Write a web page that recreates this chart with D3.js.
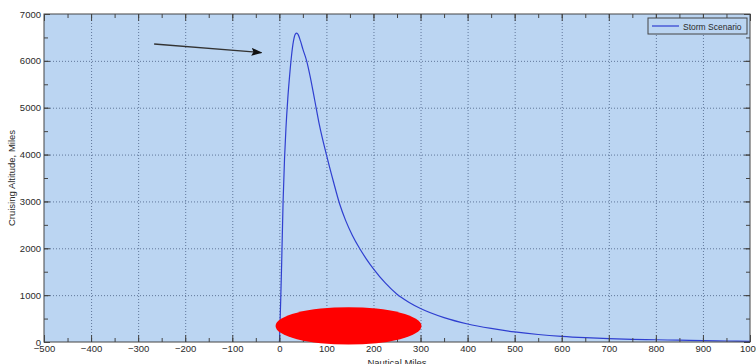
<!DOCTYPE html>
<html>
<head>
<meta charset="utf-8">
<script src="https://cdn.jsdelivr.net/npm/d3@7"></script>
<style>
  html, body { margin: 0; padding: 0; background: #ffffff; }
  svg { display: block; }
  text { font-family: 'Liberation Sans', Arial, sans-serif; }
</style>
</head>
<body>
<div id="chart"></div>
<script>
const WIDTH = 756
const HEIGHT = 364
const MARGIN = { top: 14, right: 6, bottom: 22, left: 44 }

// storm scenario profile
const MILES = [0, 0.5, 1, 2, 3, 5, 8, 11, 14, 18, 22, 26, 30, 34, 37, 40, 45, 50, 58, 65, 75, 85, 100,
  115, 128, 141, 155, 171, 185, 200, 225, 250, 275, 300, 350, 400, 450, 500, 550, 600, 650, 700,
  750, 800, 850, 900, 950, 1000]
const ALTITUDE = [0, 60, 250, 580, 920, 1700, 3000, 3900, 4550, 5200, 5700, 6120, 6420, 6570, 6590, 6560, 6420, 6250, 6000, 5690, 5170, 4640, 4000,
  3420, 2950, 2590, 2280, 1990, 1770, 1560, 1260, 1020, 850, 715, 520, 385, 290, 215, 160, 120, 92, 72,
  58, 48, 38, 28, 21, 15]

const X_DOMAIN = [-500, 1000]
const Y_DOMAIN = [0, 7000]
const X_TICKS = d3.range(-500, 1001, 100)
const X_MINOR = d3.range(-500, 1001, 50)
const Y_TICKS = d3.range(0, 7001, 1000)
const Y_MINOR = d3.range(0, 7001, 500)

// annotation arrow [miles, altitude] start -> end
const ARROW_FROM = [-266, 6360]
const ARROW_TO = [-38, 6175]

// red storm cell: center and half-widths in data units
const CELL_CENTER = [147, 344]
const CELL_RADIUS = [155, 400]

const SERIES_NAME = 'Storm Scenario'
const X_TITLE = 'Nautical Miles'
const Y_TITLE = 'Cruising Altitude, Miles'

const innerW = WIDTH - MARGIN.left - MARGIN.right
const innerH = HEIGHT - MARGIN.top - MARGIN.bottom

const svg = d3.select('#chart').append('svg')
  .attr('width', WIDTH).attr('height', HEIGHT)

svg.append('defs').append('marker')
  .attr('id', 'arrowhead')
  .attr('markerUnits', 'userSpaceOnUse')
  .attr('markerWidth', 11).attr('markerHeight', 8)
  .attr('refX', 10).attr('refY', 4)
  .attr('orient', 'auto')
  .append('polygon')
  .attr('points', '0 0, 11 4, 0 8, 2 4')
  .attr('fill', '#111')

const g = svg.append('g').attr('transform', `translate(${MARGIN.left},${MARGIN.top})`)

const x = d3.scaleLinear().domain(X_DOMAIN).range([0, innerW])
const y = d3.scaleLinear().domain(Y_DOMAIN).range([innerH, 0])

g.append('rect')
  .attr('width', innerW).attr('height', innerH)
  .attr('fill', '#bbd5f2')

// dotted grid
const gridStyle = sel => {
  sel.select('.domain').remove()
  sel.selectAll('text').remove()
  sel.selectAll('line')
    .attr('stroke', '#60779a')
    .attr('stroke-width', 1)
    .attr('stroke-dasharray', '1,2')
}
g.append('g')
  .attr('transform', `translate(0,${innerH})`)
  .call(d3.axisBottom(x).tickValues(X_TICKS.slice(1, -1)).tickSize(-innerH))
  .call(gridStyle)
g.append('g')
  .call(d3.axisLeft(y).tickValues(Y_TICKS.slice(1, -1)).tickSize(-innerW))
  .call(gridStyle)

// annotation arrow
g.append('line')
  .attr('x1', x(ARROW_FROM[0])).attr('y1', y(ARROW_FROM[1]))
  .attr('x2', x(ARROW_TO[0])).attr('y2', y(ARROW_TO[1]))
  .attr('stroke', '#333')
  .attr('stroke-width', 1.3)
  .attr('marker-end', 'url(#arrowhead)')

// curve
const pts = MILES.map((m, i) => [m, ALTITUDE[i]])
g.append('path')
  .datum(pts)
  .attr('fill', 'none')
  .attr('stroke', '#2f3fd0')
  .attr('stroke-width', 1.2)
  .attr('d', d3.line().x(d => x(d[0])).y(d => y(d[1])).curve(d3.curveMonotoneX))

// axes: ticks point inward, on all four sides
const tickStyle = sel => {
  sel.select('.domain').remove()
  sel.selectAll('line').attr('stroke', '#444')
  sel.selectAll('text')
    .attr('fill', '#2a2a2a')
    .attr('font-size', '9.5px')
}
const noLabel = sel => { tickStyle(sel); sel.selectAll('text').remove() }

g.append('g')
  .attr('transform', `translate(0,${innerH})`)
  .call(d3.axisBottom(x).tickValues(X_MINOR).tickSize(-4).tickFormat(''))
  .call(noLabel)
g.append('g')
  .attr('transform', `translate(0,${innerH})`)
  .call(d3.axisBottom(x).tickValues(X_TICKS).tickSize(-7).tickPadding(3).tickFormat(d3.format('d')))
  .call(tickStyle)
g.append('g')
  .call(d3.axisTop(x).tickValues(X_MINOR).tickSize(-4).tickFormat(''))
  .call(noLabel)
g.append('g')
  .call(d3.axisTop(x).tickValues(X_TICKS).tickSize(-7).tickFormat(''))
  .call(noLabel)

g.append('g')
  .call(d3.axisLeft(y).tickValues(Y_MINOR).tickSize(-4).tickFormat(''))
  .call(noLabel)
g.append('g')
  .call(d3.axisLeft(y).tickValues(Y_TICKS).tickSize(-6).tickPadding(3).tickFormat(d3.format('d')))
  .call(tickStyle)
g.append('g')
  .attr('transform', `translate(${innerW},0)`)
  .call(d3.axisRight(y).tickValues(Y_MINOR).tickSize(-4).tickFormat(''))
  .call(noLabel)
g.append('g')
  .attr('transform', `translate(${innerW},0)`)
  .call(d3.axisRight(y).tickValues(Y_TICKS).tickSize(-6).tickFormat(''))
  .call(noLabel)

g.append('rect')
  .attr('width', innerW).attr('height', innerH)
  .attr('fill', 'none')
  .attr('stroke', '#444')
  .attr('stroke-width', 1)

// storm cell sits over the axis
g.append('ellipse')
  .attr('cx', x(CELL_CENTER[0]))
  .attr('cy', y(CELL_CENTER[1]))
  .attr('rx', x(CELL_CENTER[0] + CELL_RADIUS[0]) - x(CELL_CENTER[0]))
  .attr('ry', y(0) - y(CELL_RADIUS[1]))
  .attr('fill', '#ff0000')

// axis titles
svg.append('text')
  .attr('x', MARGIN.left + innerW / 2)
  .attr('y', HEIGHT + 2)
  .attr('text-anchor', 'middle')
  .attr('font-size', '9.5px')
  .attr('fill', '#2a2a2a')
  .text(X_TITLE)

svg.append('text')
  .attr('transform', `translate(15,${MARGIN.top + innerH / 2}) rotate(-90)`)
  .attr('text-anchor', 'middle')
  .attr('font-size', '9.5px')
  .attr('fill', '#2a2a2a')
  .text(Y_TITLE)

// legend
const legend = svg.append('g').attr('transform', 'translate(648,18)')
legend.append('rect')
  .attr('width', 99).attr('height', 16)
  .attr('fill', '#bbd5f2')
  .attr('stroke', '#444')
legend.append('line')
  .attr('x1', 4).attr('x2', 31)
  .attr('y1', 8).attr('y2', 8)
  .attr('stroke', '#2f3fd0')
  .attr('stroke-width', 1.2)
legend.append('text')
  .attr('x', 35).attr('y', 11.5)
  .attr('font-size', '8.5px')
  .attr('fill', '#2a2a2a')
  .text(SERIES_NAME)
</script>
</body>
</html>
